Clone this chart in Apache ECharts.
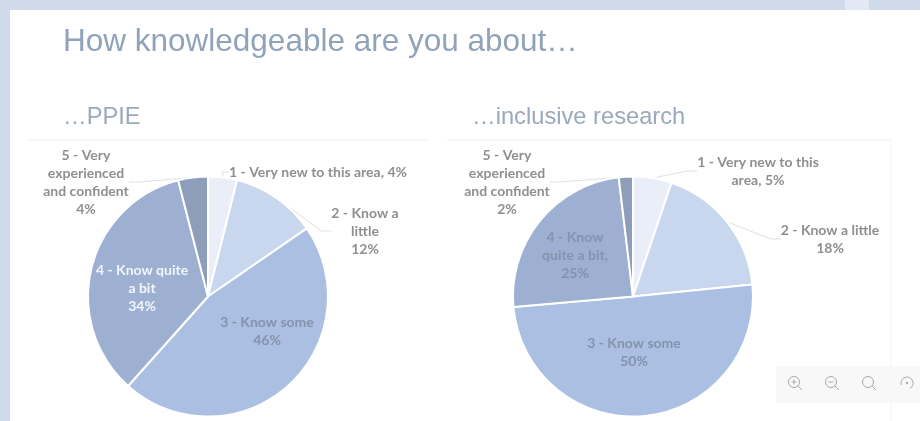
<!DOCTYPE html>
<html><head><meta charset="utf-8">
<style>html,body{margin:0;padding:0;background:#fff}#c{width:920px;height:421px;filter:blur(0.4px)}</style>
<script src="https://cdn.jsdelivr.net/npm/echarts@6/dist/echarts.min.js"></script>
</head><body><div id="c"></div>
<script>
const categories = ['1 - Very new to this area','2 - Know a little','3 - Know some','4 - Know quite a bit','5 - Very experienced and confident'];
const ppieValues = [3.9,11.5,46.2,34.4,4];
const inclusiveValues = [5.2,18.2,50.2,24.5,1.9];
const colors = ['#E9EEF8','#C8D6EE','#ABBFE3','#9DB0D1','#8E9DB9'];
const ppieLabels = ['1 - Very new to this area, 4%','2 - Know a\nlittle\n12%','3 - Know some\n46%','4 - Know quite\na bit\n34%','5 - Very\nexperienced\nand confident\n4%'];
const inclusiveLabels = ['1 - Very new to this\narea, 5%','2 - Know a little\n18%','3 - Know some\n50%','4 - Know\nquite a bit,\n25%','5 - Very\nexperienced\nand confident\n2%'];
const ppieLabelColors = ['#8f8f8f','#8f8f8f','#8492ad','#f2f5fa','#8f8f8f'];
const inclusiveLabelColors = ['#8f8f8f','#8f8f8f','#8492ad','#8492ad','#8f8f8f'];
const ppieLabelPos = [[318,172],[365,231],[267,331],[142,288],[86,182]];
const inclusiveLabelPos = [[758,171],[830,239],[634,352],[575,255],[507,182]];
const FONT = 'Lato, "Open Sans", sans-serif';

function pie(center, values, labels, labelColors, labelPos){
  return {
    type:'pie', center:center, radius:[0,120], startAngle:90, clockwise:true, silent:true, animation:false,
    avoidLabelOverlap:false,
    itemStyle:{borderColor:'#fff',borderWidth:2},
    labelLine:{show:true,length:10,length2:10,smooth:false,lineStyle:{color:'#e0e0e0',width:1}},
    labelLayout:p=>({x:labelPos[p.dataIndex][0],y:labelPos[p.dataIndex][1],align:'center',verticalAlign:'middle'}),
    data:categories.map((n,i)=>({
      name:n,value:values[i],
      itemStyle:{color:colors[i]},
      labelLine:{show:![2,3].includes(i)},
      label:{show:true,formatter:labels[i],color:labelColors[i],fontFamily:FONT,fontWeight:'bold',fontSize:14,lineHeight:18,align:'center'}
    }))
  };
}
function icon(cx,cy,kind){
  const st={stroke:'#a9a9a9',fill:'none',lineWidth:1};
  const els=[{type:'circle',shape:{cx:cx-1,cy:cy-1,r:5.5},style:st},
             {type:'line',shape:{x1:cx+3,y1:cy+3,x2:cx+7,y2:cy+7},style:st}];
  if(kind!=='plain') els.push({type:'line',shape:{x1:cx-3.5,y1:cy-1,x2:cx+1.5,y2:cy-1},style:st});
  if(kind==='plus') els.push({type:'line',shape:{x1:cx-1,y1:cy-3.5,x2:cx-1,y2:cy+1.5},style:st});
  return els;
}
const chart = echarts.init(document.getElementById('c'),null,{renderer:'canvas'});
chart.setOption({
  animation:false,
  backgroundColor:'#fff',
  title:[
    {text:'How knowledgeable are you about…',left:58,top:21,textStyle:{fontFamily:'Liberation Sans',fontWeight:'normal',fontSize:31.5,color:'#90A3BA'}},
    {text:'…PPIE',left:58,top:100,textStyle:{fontFamily:'Liberation Sans',fontWeight:'normal',fontSize:23.7,color:'#9AA9BB'}},
    {text:'…inclusive research',left:467,top:100,textStyle:{fontFamily:'Liberation Sans',fontWeight:'normal',fontSize:23.7,color:'#9AA9BB'}}
  ],
  graphic:[
    {type:'group',silent:true,z:-10,children:[
      {type:'rect',shape:{x:0,y:0,width:920,height:10},style:{fill:'#CFDBEB'}},
      {type:'rect',shape:{x:0,y:0,width:10,height:421},style:{fill:'#CFDBEB'}},
      {type:'rect',shape:{x:845,y:0,width:24,height:10},style:{fill:'#E2E9F5'}},
      {type:'line',shape:{x1:28,y1:140,x2:428,y2:140},style:{stroke:'#eeeeee',lineWidth:1}},
      {type:'line',shape:{x1:447,y1:140,x2:891,y2:140},style:{stroke:'#eeeeee',lineWidth:1}},
      {type:'line',shape:{x1:891,y1:140,x2:891,y2:421},style:{stroke:'#f3f3f3',lineWidth:1}}
    ]},
    {type:'group',silent:true,z:100,children:[
      {type:'rect',shape:{x:776,y:366,width:144,height:37},style:{fill:'#F8F8F8'}},
      ...icon(795,383,'plus'),...icon(832,383,'minus'),...icon(869,383,'plain'),
      {type:'arc',shape:{cx:907,cy:383,r:6,startAngle:-Math.PI*1.1,endAngle:Math.PI*0.35},style:{stroke:'#a9a9a9',fill:'none',lineWidth:1}},
      {type:'circle',shape:{cx:907,cy:383,r:1.2},style:{fill:'#a9a9a9'}}
    ]}
  ],
  series:[
    pie([208,296.5],ppieValues,ppieLabels,ppieLabelColors,ppieLabelPos),
    pie([633,296.5],inclusiveValues,inclusiveLabels,inclusiveLabelColors,inclusiveLabelPos)
  ]
});
</script></body></html>
